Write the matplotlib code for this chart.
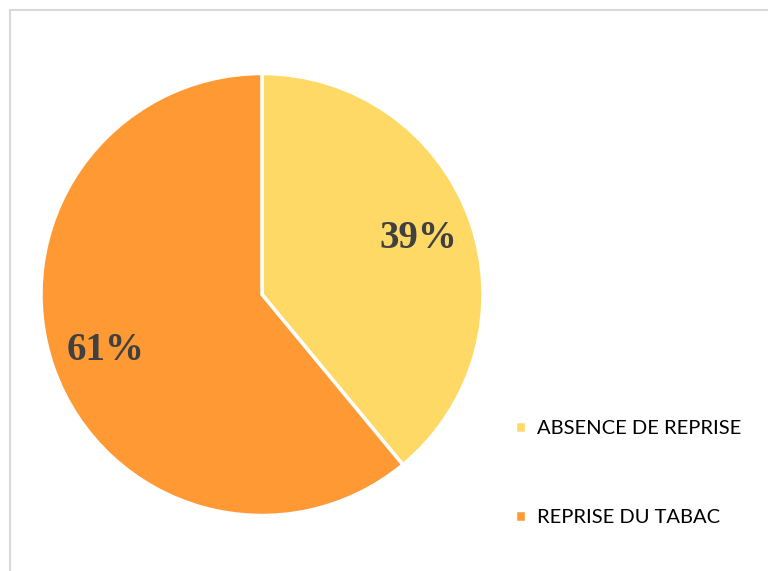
import matplotlib.pyplot as plt
from matplotlib.lines import Line2D

labels = ["ABSENCE DE REPRISE", "REPRISE DU TABAC"]
values = [39, 61]
colors = ["#FFD966", "#FF9933"]

fig = plt.figure(figsize=(7.68, 5.71), dpi=100)

# light frame around the chart area (top and left visible)
fig.add_artist(Line2D([10/768, 10/768], [0, 1 - 10/571], transform=fig.transFigure, color="#D9D9D9", lw=1.5))
fig.add_artist(Line2D([10/768, 1], [1 - 10/571, 1 - 10/571], transform=fig.transFigure, color="#D9D9D9", lw=1.5))

cx, cy, r = 262, 294.5, 221
ax = fig.add_axes([(cx - r)/768, (571 - cy - r)/571, 2*r/768, 2*r/571])
wedges, texts, autotexts = ax.pie(values, colors=colors, startangle=90, counterclock=False,
                                  autopct="%d%%", pctdistance=0.75,
                                  wedgeprops=dict(edgecolor="white", linewidth=2.5))
for t in autotexts:
    t.set_fontfamily("Liberation Serif")
    t.set_fontweight("bold")
    t.set_fontsize(28)
    t.set_color("#404040")
ax.set_xlim(-1, 1)
ax.set_ylim(-1, 1)
ax.set_aspect("equal")

fig.legend(wedges, labels, loc="center left", bbox_to_anchor=(497/768, 1 - 473/571),
           frameon=False, prop={"family": "Lato", "size": 14.5},
           handlelength=0.55, handleheight=0.55, handletextpad=0.55, labelspacing=3.55)

fig.savefig("out.png", dpi=100)
